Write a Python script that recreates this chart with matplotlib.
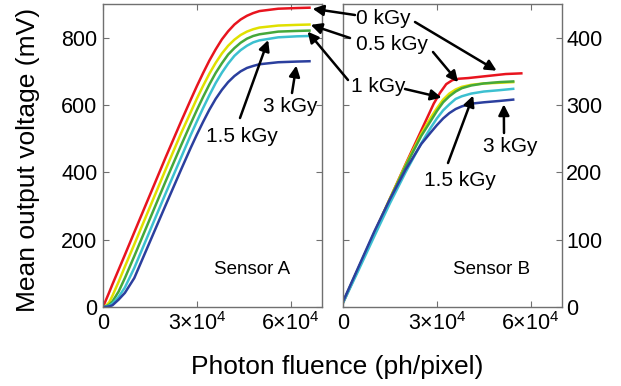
import numpy as np
import matplotlib
matplotlib.use('Agg')
import matplotlib.pyplot as plt

plt.rcParams['font.family'] = ['Liberation Sans', 'DejaVu Sans']
plt.rcParams['mathtext.fontset'] = 'custom'
plt.rcParams['mathtext.rm'] = 'Liberation Sans'

# ---- data ----
doses = ['0 kGy', '0.5 kGy', '1 kGy', '1.5 kGy', '3 kGy']
colors = ['#e8141e', '#e0e000', '#45a83a', '#3cc0d0', '#2b3f9e']

# Sensor A: photon fluence (ph/pixel) and mean output voltage (mV)
xA = [0, 1e3, 2e3, 3e3, 5e3, 7e3, 10e3, 20e3, 25e3, 28e3, 30e3, 32e3, 34e3, 36e3,
      38e3, 40e3, 42e3, 44e3, 46e3, 48e3, 50e3, 56e3, 62e3, 66e3]
redA = [0, 22, 44, 67, 111, 155, 222, 444, 552, 615, 656, 695, 732, 765,
        795, 819, 839, 854, 865, 873, 879, 886, 888, 889]
yelA = [0, 4, 14, 33, 75, 120, 186, 408, 517, 578, 619, 657, 693, 725,
        753, 776, 794, 808, 818, 825, 830, 836, 838, 839]
greA = [0, 2, 7, 16, 46, 86, 151, 373, 481, 544, 585, 624, 661, 695,
        724, 750, 769, 785, 797, 805, 810, 818, 820, 821]
cyaA = [0, 1, 4, 10, 30, 58, 116, 337, 445, 510, 551, 591, 629, 665,
        696, 723, 746, 763, 776, 786, 792, 801, 804, 805]
bluA = [0, 0.5, 2, 5, 22, 42, 86, 302, 409, 472, 512, 550, 586, 618,
        645, 668, 686, 700, 710, 716, 721, 727, 729, 730]

# Sensor B
xBred = [0, 5e3, 10e3, 15e3, 20e3, 25e3, 27e3, 29e3, 31e3, 33e3, 35e3, 37e3,
         40e3, 44e3, 48e3, 52e3, 57e3]
redB = [6, 58, 110, 161, 212, 262, 282, 302, 318, 331, 337, 339,
        340, 342, 344, 346, 347]
xB = [0, 5e3, 10e3, 15e3, 20e3, 25e3, 28e3, 30e3, 32e3, 34e3, 36e3, 38e3,
      41e3, 45e3, 50e3, 54.4e3]
yelB = [7, 58, 110, 161, 211, 257, 281, 295, 308, 317, 323, 327, 330, 332, 333, 334]
greB = [7, 58, 109, 160, 209, 254, 276, 291, 304, 313, 320, 325, 329, 332, 334, 335]
cyaB = [6, 55, 105, 154, 200, 243, 266, 280, 292, 301, 309, 313, 317, 320, 322, 324]
bluB = [8, 60, 112, 160, 204, 242, 259, 270, 280, 288, 294, 298, 302, 304, 306, 308]

xticks = [0, 3e4, 6e4]
xticklabels = ['0', r'$\mathregular{3{\times}10^{4}}$', r'$\mathregular{6{\times}10^{4}}$']

W, H = 621, 386
def px(x, y):
    return (x / W, 1 - y / H)

fig = plt.figure(figsize=(W / 100, H / 100), dpi=100)
axA = fig.add_axes([103 / W, 1 - 307 / H, 219 / W, 303 / H])
axB = fig.add_axes([343 / W, 1 - 307 / H, 219 / W, 303 / H])

for yy, c in zip([redA, yelA, greA, cyaA, bluA], colors):
    axA.plot(xA, yy, color=c, lw=1.8)
axB.plot(xBred, redB, color=colors[0], lw=1.8)
for yy, c in zip([yelB, greB, cyaB, bluB], colors[1:]):
    axB.plot(xB, yy, color=c, lw=1.8)

spine_col = '#707070'
for ax in (axA, axB):
    ax.set_xlim(0, 7e4)
    ax.set_xticks(xticks)
    ax.set_xticklabels(xticklabels)
    ax.set_facecolor('none')
    for s in ax.spines.values():
        s.set_color(spine_col)
        s.set_linewidth(1.0)
    ax.tick_params(direction='in', length=4, width=0.8, color=spine_col,
                   labelsize=15.5, top=True, right=True, pad=4)

axA.set_ylim(0, 900)
axA.set_yticks([0, 200, 400, 600, 800])

axB.set_ylim(0, 450)
axB.set_yticks([0, 100, 200, 300, 400])
axB.tick_params(axis='y', labelleft=False, labelright=True, pad=3)

fig.text(*px(28, 160), 'Mean output voltage (mV)', fontsize=19, rotation=90,
         ha='center', va='center')
fig.text(*px(337, 367), 'Photon fluence (ph/pixel)', fontsize=19, ha='center', va='center')
fig.text(*px(252, 270), 'Sensor A', fontsize=13.5, ha='center', va='center')
fig.text(*px(492, 269), 'Sensor B', fontsize=13.5, ha='center', va='center')

# dose labels
labels = [('0 kGy', 383, 18), ('0.5 kGy', 392, 45), ('1 kGy', 378, 86),
          ('1.5 kGy', 242, 137), ('3 kGy', 290, 107),
          ('1.5 kGy', 460, 180), ('3 kGy', 510, 147)]
for s, x, y in labels:
    fig.text(*px(x, y), s, fontsize=15, ha='center', va='center')

# arrows: (axes, tip in data, tail in pixels)
arrows = [(axA, (67.0e3, 886), (355, 15)),
          (axB, (49.1e3, 351), (415, 22)),
          (axA, (66.4e3, 838), (350, 38)),
          (axB, (36.8e3, 334), (433, 52)),
          (axA, (65.4e3, 818), (348, 80)),
          (axB, (31.5e3, 311), (405, 89)),
          (axA, (52.8e3, 793), (240, 118)),
          (axB, (41.6e3, 314), (448, 163)),
          (axA, (61.8e3, 717), (292, 93)),
          (axB, (51.4e3, 301), (504, 133))]
for ax, tip, tail in arrows:
    axB.annotate('', xy=tip, xycoords=ax.transData,
                 xytext=px(*tail), textcoords='figure fraction',
                 arrowprops=dict(arrowstyle='-|>', color='k', lw=1.8,
                                 mutation_scale=16, shrinkA=0, shrinkB=0),
                 annotation_clip=False)

fig.savefig('out.png', dpi=100)
